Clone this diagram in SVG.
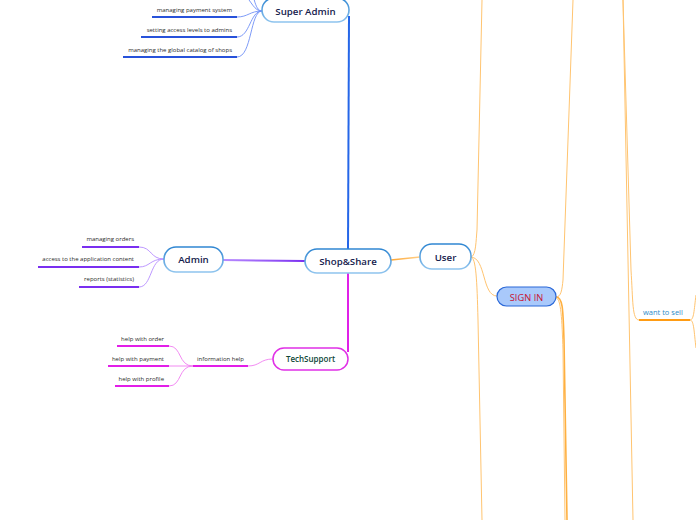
<svg xmlns="http://www.w3.org/2000/svg" width="696" height="520" viewBox="0 0 696 520">
<defs>
<linearGradient id="nodeStroke" x1="0" y1="0" x2="0" y2="1">
<stop offset="0" stop-color="#2f86d2"/>
<stop offset="1" stop-color="#8fc4ee"/>
</linearGradient>
<linearGradient id="purpleGrad" x1="0" y1="0" x2="1" y2="0">
<stop offset="0" stop-color="#b98cff"/>
<stop offset="1" stop-color="#7a2ff0"/>
</linearGradient>
<linearGradient id="orangeGrad" x1="0" y1="0" x2="1" y2="0">
<stop offset="0" stop-color="#ffa632"/>
<stop offset="1" stop-color="#ffd08a"/>
</linearGradient>
</defs>
<style>
.node{fill:#ffffff;stroke:url(#nodeStroke);stroke-width:1.6}
.main{font-family:"Open Sans","Noto Sans","DejaVu Sans",sans-serif;font-size:9.7px;font-weight:600;fill:#16214d;text-anchor:middle}
.small{font-family:"Open Sans","Noto Sans","DejaVu Sans",sans-serif;font-size:6px;fill:#2a2a2a;text-anchor:end}
.blueThin{fill:none;stroke:#6f90f6;stroke-width:0.9}
.blueUl{fill:none;stroke:#2852da;stroke-width:2}
.purpleThin{fill:none;stroke:#b58cff;stroke-width:0.9}
.purpleUl{fill:none;stroke:#7a2ff0;stroke-width:2}
.magThin{fill:none;stroke:#f07ef0;stroke-width:0.9}
.magUl{fill:none;stroke:#e21ee8;stroke-width:2}
.orThin{fill:none;stroke:#ffc470;stroke-width:1}
.orMid{fill:none;stroke:#ffb040;stroke-width:1.6}
</style>

<g id="connectors">
<!-- Super Admin branch -->
<path class="blueThin" d="M262,11 C254,11 252,2 244,-6"/>
<path class="blueThin" d="M262,11 C254,11 254,-8 248,-20"/>
<path class="blueThin" d="M262,11 C250,11 248,17 237,17"/>
<path class="blueThin" d="M262,11 C250,11 250,37 237,37"/>
<path class="blueThin" d="M262,11 C250,11 252,57 237,57"/>
<path class="blueUl" d="M152,17 H237"/>
<path class="blueUl" d="M141,37 H237"/>
<path class="blueUl" d="M123,57 H237"/>
<path fill="none" stroke="#2566e8" stroke-width="2" d="M349,16 L348,249"/>

<!-- Admin branch -->
<path fill="none" stroke="url(#purpleGrad)" stroke-width="2" d="M223,260 L305,261"/>
<path class="purpleThin" d="M164,259 C150,259 152,247 139,247"/>
<path class="purpleThin" d="M164,259 C150,259 150,267 139,267"/>
<path class="purpleThin" d="M164,259 C150,259 152,287 139,287"/>
<path class="purpleUl" d="M82,247 H139"/>
<path class="purpleUl" d="M38,267 H139"/>
<path class="purpleUl" d="M79,287 H139"/>

<!-- TechSupport branch -->
<path fill="none" stroke="#e021e8" stroke-width="2" d="M348,273 L348,352"/>
<path class="magThin" d="M273,359 C260,359 260,366 248,366"/>
<path class="magUl" d="M193,366 H248"/>
<path class="magThin" d="M193,366 C178,366 182,346 169,346"/>
<path class="magThin" d="M193,366 H169"/>
<path class="magThin" d="M193,366 C178,366 182,386 169,386"/>
<path class="magUl" d="M117,346 H169"/>
<path class="magUl" d="M108,366 H169"/>
<path class="magUl" d="M115,386 H169"/>

<!-- User branch -->
<path fill="none" stroke="url(#orangeGrad)" stroke-width="1.6" d="M391,260 L420,257"/>
<path class="orThin" d="M471,257 C476,256 476,240 477,230 L482,0"/>
<path class="orThin" d="M471,257 C476,258 477,280 478,320 L482,520"/>
<path class="orThin" d="M471,257 C486,258 482,296 497,296"/>
<path class="orThin" d="M556,297 C561,297 562,290 563,280 L573,0"/>
<path class="orMid" d="M556,297 C563,297 563,310 564,340 L567,520"/>
<path class="orThin" d="M556,298 C561,298 562,320 563,350 L565,520"/>
<path class="orThin" d="M623,0 L628,260 L633,520"/>
<path class="orThin" d="M623,0 L631,270 C633,300 632,320 639,320"/>
<path fill="none" stroke="#ff9c14" stroke-width="1.8" d="M639,320 H690"/>
<path class="orThin" d="M690,320 C694,320 694,310 696,295"/>
<path class="orThin" d="M690,320 C694,320 694,332 696,348"/>
</g>

<g id="super-admin">
<rect class="node" x="262" y="-2" width="87" height="24" rx="12"/>
<text class="main" x="305.5" y="14.5">Super Admin</text>
</g>
<g id="sa-payment"><text class="small" x="232" y="12">managing payment system</text></g>
<g id="sa-access"><text class="small" x="232" y="32">setting access levels to admins</text></g>
<g id="sa-catalog"><text class="small" x="232" y="52">managing the global catalog of shops</text></g>

<g id="shop-share">
<rect class="node" x="305" y="249" width="86" height="24" rx="12"/>
<text class="main" x="348" y="264.5">Shop&amp;Share</text>
</g>

<g id="admin">
<rect class="node" x="164" y="247" width="59" height="25" rx="12"/>
<text class="main" x="193.5" y="263">Admin</text>
</g>
<g id="ad-orders"><text class="small" x="134" y="241">managing orders</text></g>
<g id="ad-content"><text class="small" x="134" y="261">access to the application content</text></g>
<g id="ad-reports"><text class="small" x="134" y="280.5">reports (statistics)</text></g>

<g id="techsupport">
<rect x="273" y="348" width="75" height="22" rx="11" fill="#ffffff" stroke="#e030e6" stroke-width="1.5"/>
<text class="main" x="310.5" y="362" style="font-size:8px;fill:#0d4636">TechSupport</text>
</g>
<g id="information-help"><text class="small" x="244" y="361">information help</text></g>
<g id="help-order"><text class="small" x="164" y="341">help with order</text></g>
<g id="help-payment"><text class="small" x="164" y="361">help with payment</text></g>
<g id="help-profile"><text class="small" x="164" y="380.5">help with profile</text></g>

<g id="user">
<rect class="node" x="420" y="244" width="51" height="25" rx="12"/>
<text class="main" x="445.5" y="260.5">User</text>
</g>

<g id="sign-in">
<rect x="497" y="287" width="59" height="19" rx="9.5" fill="#a9c9fb" stroke="#2a68d8" stroke-width="1.2"/>
<text class="main" x="526.5" y="300.5" style="font-size:9.3px;font-weight:500;fill:#c8102e">SIGN IN</text>
</g>

<g id="want-to-sell">
<text x="643" y="314.5" style="font-family:'Open Sans','Noto Sans','DejaVu Sans',sans-serif;font-size:7.5px;fill:#2e8bc8">want to sell</text>
</g>
</svg>
